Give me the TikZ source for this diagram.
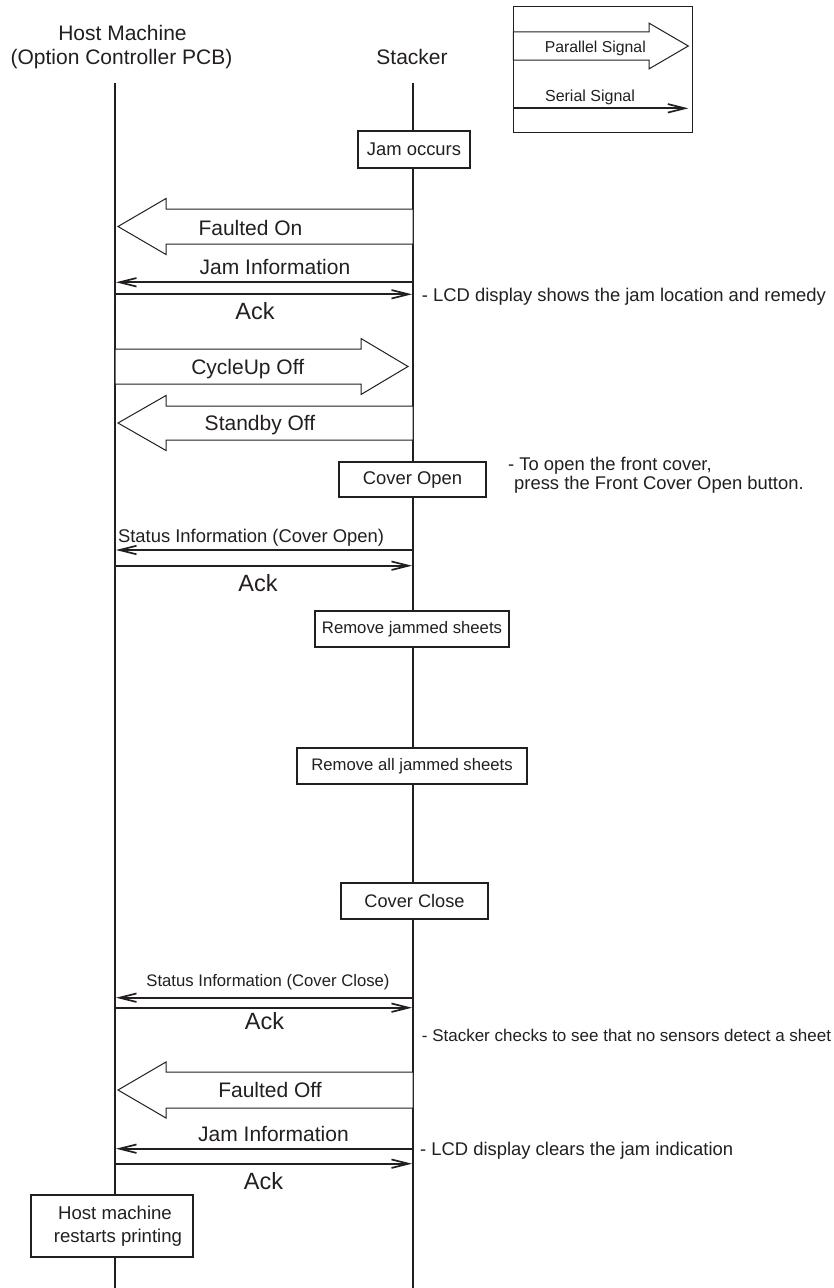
\documentclass[tikz,border=0pt]{standalone}
\usepackage{fontspec}
\setmainfont{Liberation Sans}
\usetikzlibrary{arrows.meta}
\definecolor{ink}{HTML}{231F20}

% fat "parallel signal" arrow: tail x, head-base x, tip x, centre y, body half-height, head half-height
\newcommand{\parsig}[6]{%
  \draw[fatsig] (#1,#4-#5) -- (#2,#4-#5) -- (#2,#4-#6) -- (#3,#4)
    -- (#2,#4+#6) -- (#2,#4+#5) -- (#1,#4+#5) -- cycle;}

\begin{document}
\begin{tikzpicture}[x=1pt,y=-1pt,
  life/.style={line width=1.5pt, draw=ink},
  sersig/.style={line width=1.7pt, draw=ink, -{Straight Barb[length=17pt,width=8.5pt]}},
  fatsig/.style={draw=ink, line width=1pt, fill=white, line join=miter},
  stepbox/.style={draw=ink, line width=1.1pt, fill=white, inner sep=0pt, text=ink, align=center},
  txt/.style={inner sep=0pt, anchor=base, text=ink},
  lbl/.style={txt, font=\fontsize{21}{24}\selectfont},
  acklbl/.style={txt, font=\fontsize{23.5}{26}\selectfont},
  note/.style={inner sep=0pt, anchor=base west, text=ink, font=\fontsize{18.4}{22}\selectfont},
]
\useasboundingbox[fill=white] (0,0) rectangle (834,1288);

% headings
\node[lbl] (hostA) at (122.5,40) {Host Machine};
\node[lbl] (hostB) at (121.5,64) {(Option Controller PCB)};
\node[lbl] (stk) at (412,64) {Stacker};

% lifelines
\coordinate (htop) at (115,83);
\coordinate (hbot) at (115,1288);
\coordinate (stop) at (413,83);
\coordinate (sbot) at (413,1288);
\draw[life] (htop) -- (hbot);
\draw[life] (stop) -- (sbot);

% legend
\node[draw=ink, line width=1pt, minimum width=179.4pt, minimum height=126pt, inner sep=0pt]
  (legend) at (603,69.7) {};
\parsig{513.3}{649}{688.3}{46}{14.2}{22.9}
\node[txt, font=\fontsize{15.8}{18}\selectfont] (legpar) at (595.3,52.6) {Parallel Signal};
\coordinate (legL) at (513.3,108.3);
\coordinate (legR) at (688.3,108.3);
\draw[sersig] (legL) -- (legR);
\node[txt, font=\fontsize{16}{18}\selectfont] (legser) at (590,101.7) {Serial Signal};

% jam detected
\node[stepbox, minimum width=112pt, minimum height=37pt, font=\fontsize{18.4}{22}\selectfont]
  (jam) at (414,149.5) {Jam occurs};

% Faulted On
\parsig{413}{166}{118}{226.5}{17.5}{28}
\node[lbl] (fon) at (250.5,235.5) {Faulted On};

% Jam Information / Ack
\coordinate (s1) at (413,282.3);
\coordinate (h1) at (116,282.3);
\draw[sersig] (s1) -- (h1);
\node[lbl] (ji1) at (275,274) {Jam Information};
\coordinate (h2) at (115,294.3);
\coordinate (s2) at (412,294.3);
\draw[sersig] (h2) -- (s2);
\node[acklbl] (ack1) at (255,319) {Ack};
\node[note] (n1) at (421.7,301) {- LCD display shows the jam location and remedy};

% CycleUp Off
\parsig{115}{361}{408}{366.5}{17.5}{28}
\node[lbl] (cyc) at (247.7,374) {CycleUp Off};

% Standby Off
\parsig{413}{166}{118}{423}{17}{27.5}
\node[lbl] (stby) at (260,430) {Standby Off};

% Cover Open
\node[stepbox, minimum width=147pt, minimum height=35pt, font=\fontsize{18.4}{22}\selectfont]
  (copen) at (412.5,479.5) {Cover Open};
\node[note] (n2a) at (508,470) {- To open the front cover,};
\node[note] (n2b) at (514,489.5) {press the Front Cover Open button.};

\coordinate (s3) at (413,550);
\coordinate (h3) at (116,550);
\draw[sersig] (s3) -- (h3);
\node[txt, font=\fontsize{18.4}{22}\selectfont] (st1) at (251,542) {Status Information (Cover Open)};
\coordinate (h4) at (115,565.7);
\coordinate (s4) at (412,565.7);
\draw[sersig] (h4) -- (s4);
\node[acklbl] (ack2) at (258,591) {Ack};

% sheet removal
\node[stepbox, minimum width=194pt, minimum height=36pt, font=\fontsize{16.7}{20}\selectfont]
  (rem1) at (412,629) {Remove jammed sheets};
\node[stepbox, minimum width=230pt, minimum height=36pt, font=\fontsize{16.7}{20}\selectfont]
  (rem2) at (412,766) {Remove all jammed sheets};

% Cover Close
\node[stepbox, minimum width=147pt, minimum height=36pt, font=\fontsize{18.2}{22}\selectfont]
  (cclose) at (414.5,901) {Cover Close};

\coordinate (s5) at (413,997.7);
\coordinate (h5) at (116,997.7);
\draw[sersig] (s5) -- (h5);
\node[txt, font=\fontsize{16.7}{20}\selectfont] (st2) at (268,986) {Status Information (Cover Close)};
\coordinate (h6) at (115,1007.7);
\coordinate (s6) at (412,1007.7);
\draw[sersig] (h6) -- (s6);
\node[acklbl] (ack3) at (264.5,1029.3) {Ack};
\node[note, font=\fontsize{17}{20}\selectfont] (n3) at (421.7,1041)
  {- Stacker checks to see that no sensors detect a sheet};

% Faulted Off
\parsig{413}{166}{118}{1090}{18}{28}
\node[lbl] (foff) at (270,1097.5) {Faulted Off};

\coordinate (s7) at (413,1148.7);
\coordinate (h7) at (116,1148.7);
\draw[sersig] (s7) -- (h7);
\node[lbl] (ji2) at (273.5,1141) {Jam Information};
\node[note] (n4) at (420,1155) {- LCD display clears the jam indication};
\coordinate (h8) at (115,1163.7);
\coordinate (s8) at (412,1163.7);
\draw[sersig] (h8) -- (s8);
\node[acklbl] (ack4) at (263.5,1189) {Ack};

% host restarts
\node[stepbox, minimum width=162pt, minimum height=62pt, font=\fontsize{18.6}{22.5}\selectfont]
  (restart) at (112,1226) {\hspace*{6pt}Host machine\\\hspace*{12pt}restarts printing};
\end{tikzpicture}
\end{document}
